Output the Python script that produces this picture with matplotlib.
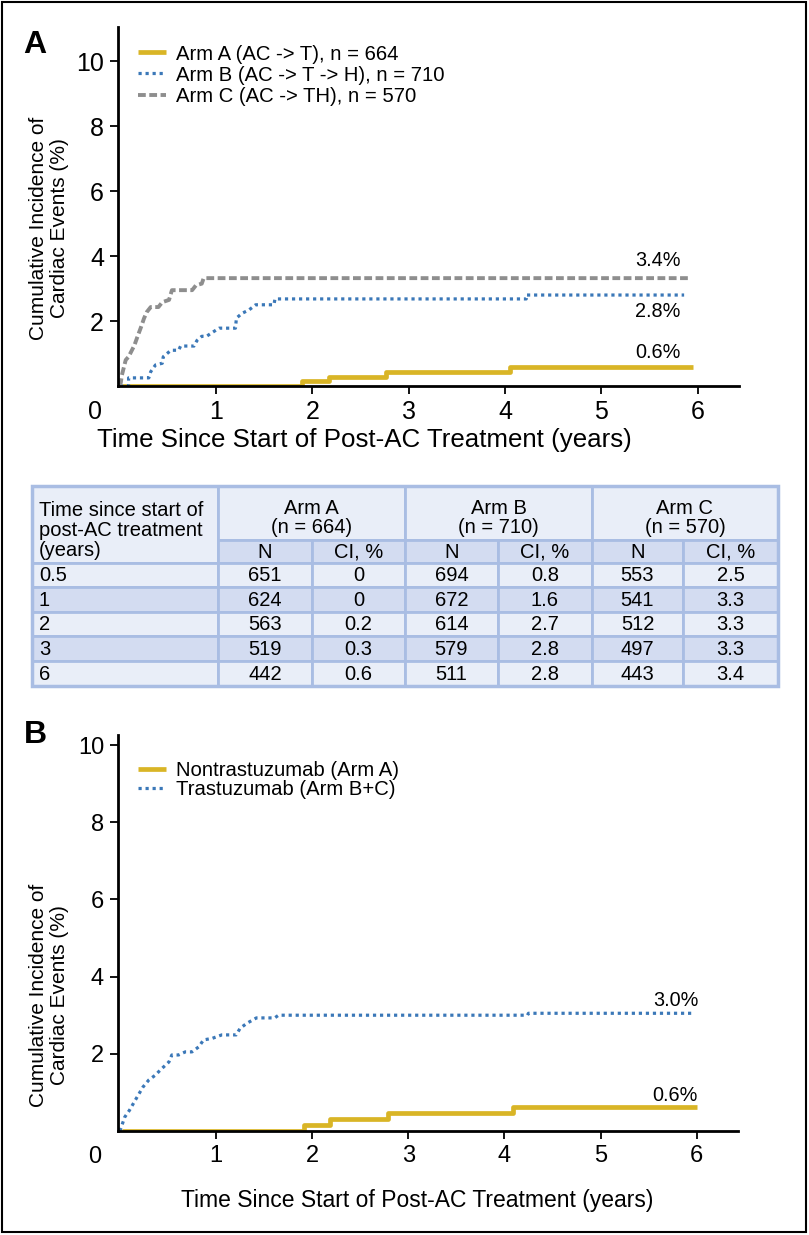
import numpy as np
import matplotlib
matplotlib.use("Agg")
import matplotlib.pyplot as plt
from matplotlib.patches import Rectangle

plt.rcParams['font.family'] = ['Liberation Sans', 'DejaVu Sans']

# colours
gold = '#D9B526'
blue = '#3B78B8'
grey = '#8E8E8E'
light = '#E9EEF8'
dark = '#D3DCF1'
edge = '#A9BDE3'

# ---- panel A curves (years, cumulative incidence %)
armA_t = [0.02, 1.89, 2.17, 2.76, 4.05, 5.95]
armA_y = [0, 0.14, 0.28, 0.43, 0.58, 0.58]

armB_t = [0.0, 0.09, 0.09, 0.30, 0.32, 0.37, 0.44, 0.45, 0.51, 0.53, 0.61, 0.63, 0.77,
          0.80, 0.85, 0.90, 0.95, 1.03, 1.20, 1.21, 1.27, 1.34, 1.41, 1.60, 1.61, 4.22,
          4.22, 5.86]
armB_y = [0, 0, 0.25, 0.25, 0.44, 0.65, 0.70, 0.90, 1.05, 1.10, 1.10, 1.23, 1.23,
          1.40, 1.53, 1.53, 1.63, 1.78, 1.78, 2.09, 2.24, 2.34, 2.50, 2.50, 2.68, 2.68,
          2.80, 2.80]

armC_t = [0.0, 0.01, 0.02, 0.06, 0.09, 0.15, 0.18, 0.22, 0.25, 0.28, 0.32, 0.40, 0.44,
          0.51, 0.54, 0.75, 0.79, 0.85, 0.87, 5.90]
armC_y = [0, 0.12, 0.33, 0.80, 0.90, 1.25, 1.50, 1.82, 2.08, 2.28, 2.43, 2.43, 2.58,
          2.65, 2.95, 2.95, 3.10, 3.15, 3.32, 3.32]

# ---- panel B curves
nonT_t = [0.02, 1.92, 2.19, 2.79, 4.09, 6.0]
nonT_y = [0, 0.16, 0.31, 0.47, 0.62, 0.62]

trast_t = [0.0, 0.05, 0.10, 0.16, 0.24, 0.30, 0.37, 0.42, 0.51, 0.54, 0.61, 0.68, 0.75,
           0.82, 0.87, 0.96, 1.06, 1.21, 1.25, 1.32, 1.42, 1.61, 1.65, 4.24, 4.25, 5.97]
trast_y = [0, 0.36, 0.54, 0.80, 1.14, 1.32, 1.45, 1.58, 1.79, 1.97, 1.97, 2.05, 2.05,
           2.18, 2.36, 2.40, 2.49, 2.49, 2.66, 2.79, 2.93, 2.93, 3.00, 3.00, 3.05, 3.05]

# ---- table
times = ['0.5', '1', '2', '3', '6']
armA_N = ['651', '624', '563', '519', '442']
armA_CI = ['0', '0', '0.2', '0.3', '0.6']
armB_N = ['694', '672', '614', '579', '511']
armB_CI = ['0.8', '1.6', '2.7', '2.8', '2.8']
armC_N = ['553', '541', '512', '497', '443']
armC_CI = ['2.5', '3.3', '3.3', '3.3', '3.4']
arm_heads = ['Arm A\n(n = 664)', 'Arm B\n(n = 710)', 'Arm C\n(n = 570)']

W, H = 809, 1235
fig = plt.figure(figsize=(W / 100, H / 100), dpi=100)

# background axes in pixel coords for border, letters and table
bg = fig.add_axes([0, 0, 1, 1])
bg.set_xlim(0, W)
bg.set_ylim(H, 0)
bg.axis('off')
bg.add_patch(Rectangle((2, 2), W - 5, H - 5, fill=False, ec='black', lw=1.5))
bg.text(35, 45, 'A', fontsize=23, fontweight='bold', ha='center', va='center')
bg.text(35, 735, 'B', fontsize=23, fontweight='bold', ha='center', va='center')

cols = [32, 218, 312, 405, 498, 592, 683, 778]
top, hrow, nrow0, rowh = 486, 540, 562.5, 24.6
tfs = 14.5

def cell(x0, x1, y0, y1, fc):
    bg.add_patch(Rectangle((x0, y0), x1 - x0, y1 - y0, fc=fc, ec=edge, lw=2))

cell(cols[0], cols[1], top, nrow0, light)
for k in range(3):
    cell(cols[1 + 2 * k], cols[3 + 2 * k], top, hrow, light)
    bg.text((cols[1 + 2 * k] + cols[3 + 2 * k]) / 2, (top + hrow) / 2 + 5, arm_heads[k],
            ha='center', va='center', fontsize=tfs, linespacing=1.05)
    for j, lab in enumerate(['N', 'CI, %']):
        cell(cols[1 + 2 * k + j], cols[2 + 2 * k + j], hrow, nrow0, dark)
        bg.text((cols[1 + 2 * k + j] + cols[2 + 2 * k + j]) / 2, (hrow + nrow0) / 2 + 1, lab,
                ha='center', va='center', fontsize=tfs)
bg.text(39, (top + nrow0) / 2 + 6, 'Time since start of\npost-AC treatment\n(years)',
        ha='left', va='center', fontsize=tfs, linespacing=1.08)

table_cols = [armA_N, armA_CI, armB_N, armB_CI, armC_N, armC_CI]
for i, t in enumerate(times):
    y0 = nrow0 + i * rowh
    fc = dark if i % 2 == 1 else light
    cell(cols[0], cols[1], y0, y0 + rowh, fc)
    bg.text(39, y0 + rowh / 2 + 1, t, ha='left', va='center', fontsize=tfs)
    for c, vals in enumerate(table_cols):
        cell(cols[c + 1], cols[c + 2], y0, y0 + rowh, fc)
        bg.text((cols[c + 1] + cols[c + 2]) / 2, y0 + rowh / 2 + 1, vals[i],
                ha='center', va='center', fontsize=tfs)
bg.add_patch(Rectangle((cols[0], top), cols[-1] - cols[0], nrow0 + 5 * rowh - top,
                       fill=False, ec=edge, lw=2.5))


def style_axes(ax, ytop, tsize):
    ax.set_xlim(-0.02, 6.43)
    ax.set_ylim(0, ytop)
    for s in ['top', 'right']:
        ax.spines[s].set_visible(False)
    for s in ['left', 'bottom']:
        ax.spines[s].set_linewidth(2)
    ax.set_xticks([1, 2, 3, 4, 5, 6])
    ax.set_yticks([2, 4, 6, 8, 10])
    ax.tick_params(length=6, width=1.3, labelsize=tsize, pad=4)
    ax.text(-0.26, -0.038, '0', transform=ax.get_xaxis_transform(), ha='center', va='top',
            fontsize=tsize)


dot = (0, (1, 1.2))
dash = (0, (2, 0.9))

# ---- panel A
axA = fig.add_axes([118 / W, 1 - 386 / H, (739 - 118) / W, (386 - 27) / H])
axA.plot(armA_t, armA_y, color=gold, lw=3.4, drawstyle='steps-post', solid_capstyle='butt',
         label='Arm A (AC -> T), n = 664')
axA.plot(armB_t, armB_y, color=blue, lw=2.3, ls=dot, label='Arm B (AC -> T -> H), n = 710')
axA.plot(armC_t, armC_y, color=grey, lw=2.8, ls=dash, label='Arm C (AC -> TH), n = 570')
style_axes(axA, 11.05, 18)
axA.text(5.59, 3.58, '3.4%', ha='center', va='bottom', fontsize=14.3)
axA.text(5.59, 2.6, '2.8%', ha='center', va='top', fontsize=14.3)
axA.text(5.59, 0.75, '0.6%', ha='center', va='bottom', fontsize=14.3)
axA.legend(loc='upper left', bbox_to_anchor=(0.012, 0.985), frameon=False, fontsize=14.6,
           handlelength=1.4, handletextpad=0.5, labelspacing=0.1, borderaxespad=0.2)
fig.text(49 / W, 1 - 228 / H, 'Cumulative Incidence of\nCardiac Events (%)', rotation=90,
         ha='center', va='center', fontsize=15, linespacing=1.15)
fig.text(364 / W, 1 - 440 / H, 'Time Since Start of Post-AC Treatment (years)',
         ha='center', va='center', fontsize=18.6)

# ---- panel B
axB = fig.add_axes([118 / W, 1 - 1131 / H, (738 - 118) / W, (1131 - 735) / H])
axB.plot(nonT_t, nonT_y, color=gold, lw=3.4, drawstyle='steps-post', solid_capstyle='butt',
         label='Nontrastuzumab (Arm A)')
axB.plot(trast_t, trast_y, color=blue, lw=2.3, ls=dot, label='Trastuzumab (Arm B+C)')
style_axes(axB, 10.26, 17)
axB.text(5.78, 3.39, '3.0%', ha='center', va='center', fontsize=14.3)
axB.text(5.77, 0.93, '0.6%', ha='center', va='center', fontsize=14.3)
axB.legend(loc='upper left', bbox_to_anchor=(0.012, 0.965), frameon=False, fontsize=14.6,
           handlelength=1.4, handletextpad=0.5, labelspacing=0.0, borderaxespad=0.2)
fig.text(49 / W, 1 - 995 / H, 'Cumulative Incidence of\nCardiac Events (%)', rotation=90,
         ha='center', va='center', fontsize=15, linespacing=1.15)
fig.text(417 / W, 1 - 1200 / H, 'Time Since Start of Post-AC Treatment (years)',
         ha='center', va='center', fontsize=16.5)

fig.savefig('out.png', dpi=100)
